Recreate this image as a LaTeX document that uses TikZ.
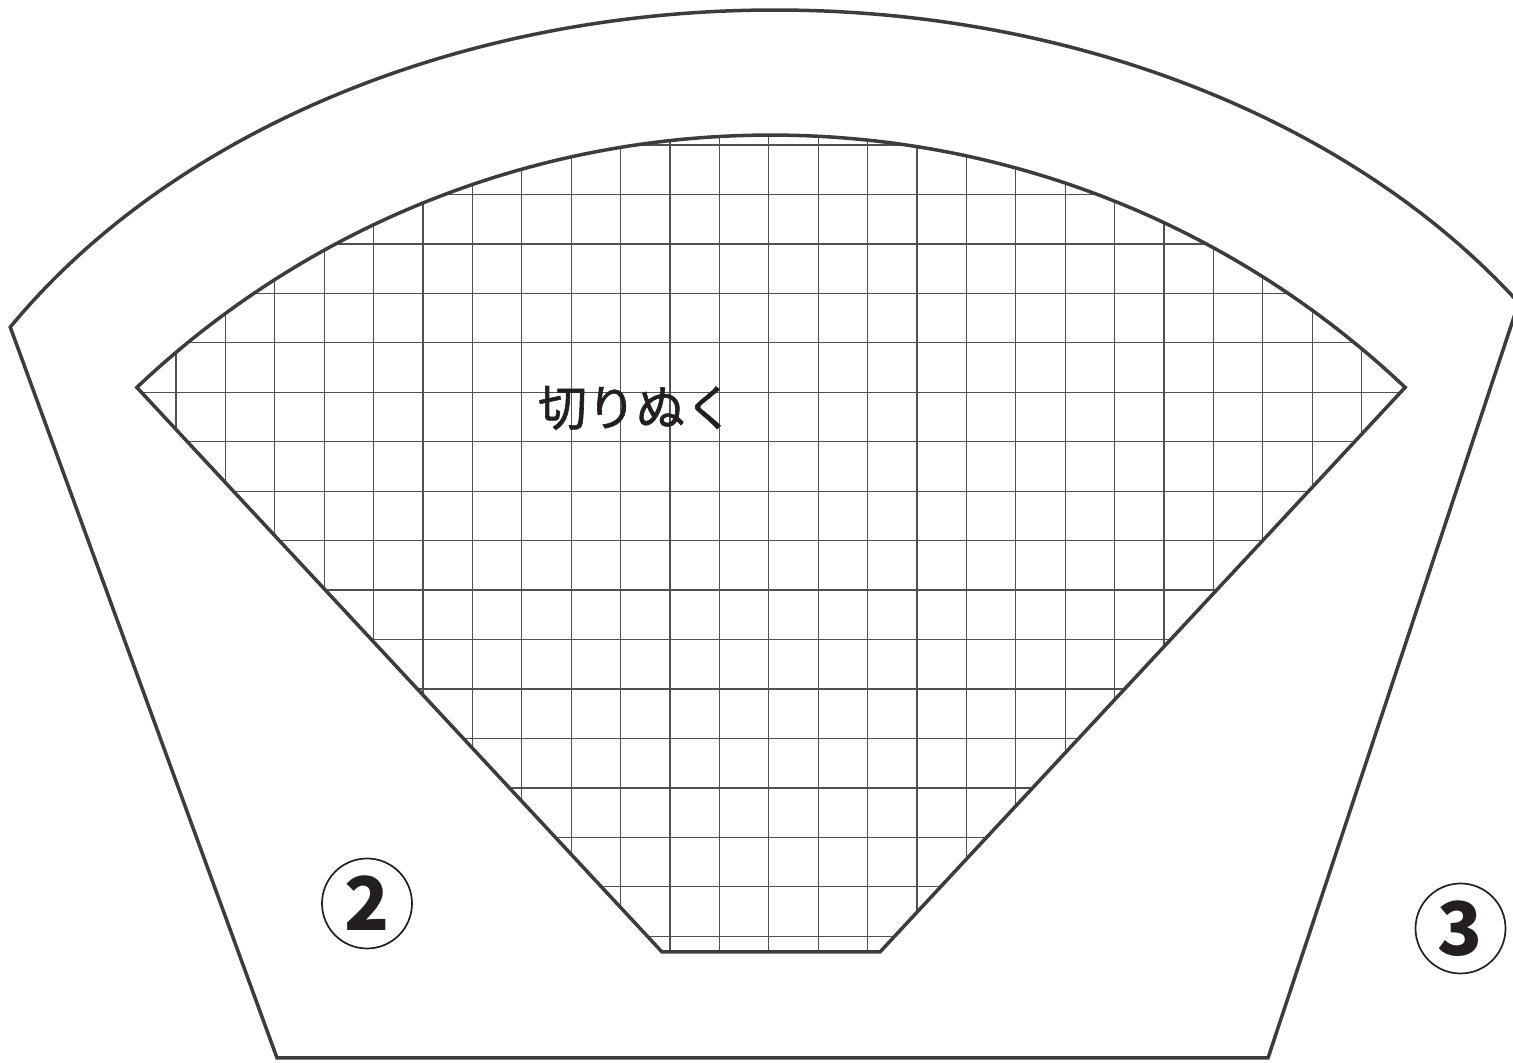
\documentclass[tikz,border=0pt]{standalone}
\usepackage{fontspec}
\newfontfamily\jpfont[FakeBold=1.2]{Noto Sans CJK JP}
\newfontfamily\numfont{Noto Sans CJK JP}
\usetikzlibrary{calc}
\definecolor{linegray}{HTML}{3C3C3C}
\definecolor{gridgray}{HTML}{505050}
\definecolor{ink}{HTML}{231F20}
\tikzset{
  outline/.style={draw=linegray, line width=1.75pt, line join=miter},
  gridline/.style={draw=gridgray, line width=0.65pt},
  numcirc/.style={circle, draw=ink, line width=0.85pt, minimum size=45pt, inner sep=0pt,
    text=ink, font=\numfont\bfseries\fontsize{37}{37}\selectfont},
  label/.style={text=ink, font=\jpfont\fontsize{24.5}{28}\selectfont}
}
\begin{document}
\begin{tikzpicture}[x=0.5pt,y=0.5pt]
\useasboundingbox (0,0) rectangle (1513,1063);
\coordinate (ic) at (771,5);
\coordinate (oc) at (775,391);
% grid clipped to the inner fan
\begin{scope}
  \clip ($(ic)+(133.4:923)$) arc[start angle=133.4, end angle=46.6, radius=923]
        -- (880,111) -- (662,111) -- cycle;
  \foreach \k in {-11,...,15}
    \draw[gridline] ({670+49.4*\k},0) -- ({670+49.4*\k},1063);
  \foreach \k in {-6,...,11}
    \draw[gridline] (0,{1063-392.3-49.45*\k}) -- (1513,{1063-392.3-49.45*\k});
\end{scope}
% inner fan outline
\draw[outline] ($(ic)+(133.4:923)$) arc[start angle=133.4, end angle=46.6, radius=923]
      -- (880,111) -- (662,111) -- cycle;
% outer fan outline
\draw[outline] ($(oc)+(148.6:896 and 662)$)
      arc[start angle=148.6, end angle=33.9, x radius=896, y radius=662]
      -- (1268,5) -- (277,5) -- cycle;
% labels
\node[label] (cut) at (636,655) {切りぬく};
\node[numcirc] (n2) at (367,159.5) {2};
\node[numcirc] (n3) at (1460.5,134.5) {3};
\end{tikzpicture}
\end{document}
